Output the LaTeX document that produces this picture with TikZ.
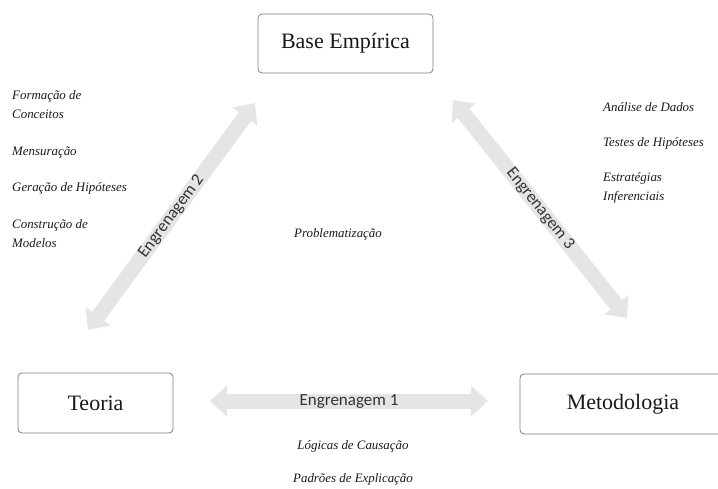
\documentclass[tikz,border=0pt]{standalone}
\usepackage{fontspec}
\setmainfont{Liberation Serif}
\newfontfamily\gearfont{Carlito}
\usetikzlibrary{arrows.meta}
\begin{document}
\begin{tikzpicture}[x=1pt,y=-1pt,
  concept/.style={draw=black!50, line width=0.8pt, rounded corners=4pt, fill=white,
    font=\fontsize{22}{25}\selectfont, text=black!90, inner sep=0pt},
  topic/.style={font=\fontsize{12.9}{19}\selectfont\itshape, text=black!90, inner sep=0pt, align=left},
  gear/.style={line width=15pt, draw=black!10,
    {Triangle[width=30pt,length=17pt]}-{Triangle[width=30pt,length=17pt]}},
  gearlabel/.style={font=\gearfont\fontsize{17}{19}\selectfont, text=black!80, inner sep=0pt}]
\useasboundingbox (0,0) rectangle (718,489);
\begin{scope}
\clip (0,0) rectangle (718,489);
% boxes
\node[concept, minimum width=175pt, minimum height=59pt] (base) at (345.5,43.5) {Base Empírica};
\node[concept, minimum width=155pt, minimum height=60pt] (teoria) at (95.5,403) {Teoria};
\node[concept, minimum width=206pt, minimum height=60pt] (metodo) at (623,404) {Metodologia};
% arrow end points
\coordinate (g1a) at (210,401);
\coordinate (g1b) at (488,401);
\coordinate (g2a) at (88,330);
\coordinate (g2b) at (255,103);
\coordinate (g3a) at (453,100);
\coordinate (g3b) at (627,318);
% gears
\draw[gear] (g1a) -- node[gearlabel] (l1) {Engrenagem 1} (g1b);
\draw[gear] (g2a) -- node[gearlabel, sloped] (l2) {Engrenagem 2} (g2b);
\draw[gear] (g3a) -- node[gearlabel, sloped] (l3) {Engrenagem 3} (g3b);
% topics
\node[topic, anchor=west] (t1) at (12,105) {Formação de\\Conceitos};
\node[topic, anchor=west] (t2) at (12,152) {Mensuração};
\node[topic, anchor=west] (t3) at (12,188) {Geração de Hipóteses};
\node[topic, anchor=west] (t4) at (12,234) {Construção de\\Modelos};
\node[topic, anchor=west] (r1) at (603,107) {Análise de Dados};
\node[topic, anchor=west] (r2) at (603,143) {Testes de Hipóteses};
\node[topic, anchor=west] (r3) at (603,187.5) {Estratégias\\Inferenciais};
\node[topic] (prob) at (338,234) {Problematização};
\node[topic] (b1) at (353,446) {Lógicas de Causação};
\node[topic] (b2) at (353,479) {Padrões de Explicação};
\end{scope}
\end{tikzpicture}
\end{document}
